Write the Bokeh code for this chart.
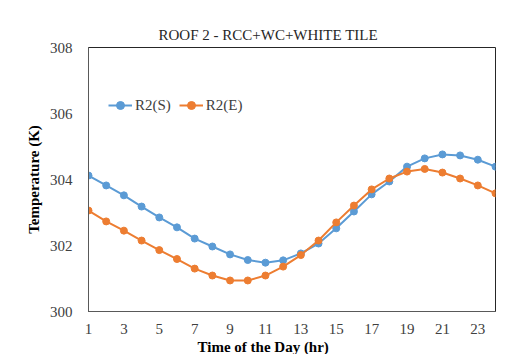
from bokeh.plotting import figure
from bokeh.models import Range1d, FixedTicker, Legend, LegendItem, Title
from bokeh.embed import file_html
from bokeh.resources import INLINE

hours = list(range(1, 25))
r2_s = [304.12, 303.82, 303.52, 303.18, 302.85, 302.55, 302.21, 301.97, 301.73, 301.56,
        301.48, 301.55, 301.76, 302.06, 302.52, 303.03, 303.55, 303.94, 304.39, 304.64,
        304.76, 304.73, 304.60, 304.39]
r2_e = [303.06, 302.73, 302.45, 302.15, 301.86, 301.59, 301.30, 301.09, 300.94, 300.94,
        301.09, 301.36, 301.71, 302.15, 302.70, 303.21, 303.70, 304.03, 304.24, 304.32,
        304.21, 304.03, 303.82, 303.58]
x_ticks = list(range(1, 24, 2))
y_ticks = [300, 302, 304, 306, 308]

BLUE = "#5B9BD5"
ORANGE = "#ED7D31"
SERIF = "Liberation Serif"

p = figure(width=523, height=354, output_backend="svg", toolbar_location=None,
           x_range=Range1d(1, 24), y_range=Range1d(300, 308),
           min_border_left=88, min_border_right=28, min_border_top=47, min_border_bottom=43)

p.title.text = "ROOF 2 - RCC+WC+WHITE TILE"
p.title.align = "left"
p.title.offset = 70
p.title.text_font = SERIF
p.title.text_font_style = "normal"
p.title.text_font_size = "15px"
p.title.text_color = "#262626"

p.xgrid.visible = False
p.ygrid.visible = False
p.outline_line_color = "#262626"
p.outline_line_width = 1

for ax in (p.xaxis[0], p.yaxis[0]):
    ax.major_label_text_font = SERIF
    ax.major_label_text_font_size = "15px"
    ax.major_label_text_color = "#404040"
    ax.axis_label_text_font = SERIF
    ax.axis_label_text_font_style = "bold"
    ax.axis_label_text_font_size = "15px"
    ax.axis_label_text_color = "#000000"
    ax.major_tick_line_color = None
    ax.minor_tick_line_color = None
    ax.axis_line_color = "#595959"

p.xaxis.ticker = FixedTicker(ticks=x_ticks)
p.yaxis.ticker = FixedTicker(ticks=y_ticks)
p.yaxis.axis_label = "Temperature (K)"
p.xaxis.major_label_standoff = 6
p.yaxis.major_label_standoff = 10

xlabel = Title(text="Time of the Day (hr)", align="left", offset=109,
               text_font=SERIF, text_font_size="15px", text_font_style="bold",
               text_color="#000000", standoff=0)
p.add_layout(xlabel, "below")

ls = p.line(hours, r2_s, line_color=BLUE, line_width=2)
ms = p.scatter(hours, r2_s, size=7, fill_color=BLUE, line_color=BLUE)
le = p.line(hours, r2_e, line_color=ORANGE, line_width=2)
me = p.scatter(hours, r2_e, size=7, fill_color=ORANGE, line_color=ORANGE)

legend = Legend(items=[LegendItem(label="R2(S)", renderers=[ls, ms]),
                       LegendItem(label="R2(E)", renderers=[le, me])],
                orientation="horizontal", location=(20, 196),
                label_text_font=SERIF, label_text_font_size="15px",
                label_text_color="#404040", border_line_color=None,
                background_fill_alpha=0, glyph_width=24, spacing=8,
                label_standoff=3, padding=4)
p.add_layout(legend)

open("out.html", "w").write(file_html(p, INLINE))
